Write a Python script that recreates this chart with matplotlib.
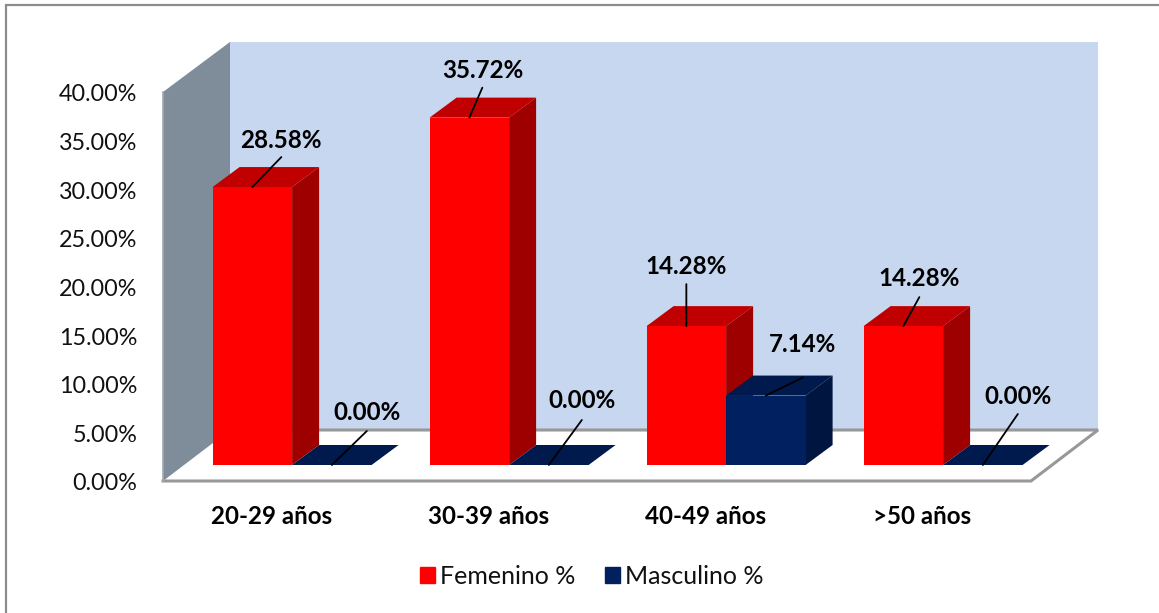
import matplotlib
matplotlib.use("Agg")
import matplotlib.pyplot as plt
from matplotlib.patches import Polygon, Rectangle
from matplotlib.lines import Line2D
from matplotlib.ticker import PercentFormatter
from matplotlib.transforms import Affine2D

plt.rcParams['font.family'] = ['Lato', 'DejaVu Sans']

# Survey values
categories = ["20-29 años", "30-39 años", "40-49 años", ">50 años"]
femenino = [28.58, 35.72, 14.28, 14.28]
masculino = [0.00, 0.00, 7.14, 0.00]
y_ticks = [0, 5, 10, 15, 20, 25, 30, 35, 40]

# Colours of the extruded faces
RED = ("#FF0000", "#C00000", "#9E0000")
BLUE = ("#002060", "#001A4D", "#001540")
WALL_SIDE = "#7F8C99"
WALL_BACK = "#C6D7EF"
FLOOR_EDGE = "#989898"

W, H = 1159, 613
fig = plt.figure(figsize=(W / 100, H / 100), dpi=100)
fig.patch.set_facecolor("white")

# Axes span the front plane of the chart box
left, right, bottom, top = 163, 1031, 481, 92
ax = fig.add_axes([left / W, 1 - bottom / H, (right - left) / W, (bottom - top) / H])
ax.set_xlim(-0.5, 3.5)
ax.set_ylim(0, 40)
ax.patch.set_visible(False)

px_x = 4 / (right - left)       # category units per pixel
px_y = 40 / (bottom - top)      # percent units per pixel


def face(points, color, z, edge="none", lw=0):
    ax.add_patch(Polygon(points, closed=True, facecolor=color, edgecolor=edge,
                         linewidth=lw, zorder=z, clip_on=False))


# Box walls and floor
box_dx, box_dy = 67 * px_x, 51 * px_y
x0, x1 = -0.5, 3.5
face([(x0 + box_dx, 0 + box_dy), (x1 + box_dx, box_dy), (x1 + box_dx, 40 + 50 * px_y + 0),
      (x0 + box_dx, 40 + 50 * px_y)], WALL_BACK, 1)
face([(x0, 0), (x0 + box_dx, box_dy), (x0 + box_dx, 40 + 50 * px_y), (x0, 40)], WALL_SIDE, 1)
ax.add_line(Line2D([x0, x1, x1 + box_dx, x0 + box_dx], [0, 0, box_dy, box_dy],
                   color=FLOOR_EDGE, lw=2.2, zorder=2, clip_on=False, solid_joinstyle="miter"))
ax.add_line(Line2D([x0, x0], [0, 40], color="#A3A9B0", lw=1.2, zorder=2, clip_on=False))

# Bars stand on the floor, set back from the front plane
base = 16 * px_y
shift = 20.6 * px_x
bar_w = 79.5 * px_x
dep_x, dep_y = 27 * px_x, 20 * px_y


def bar3d(left_x, value, colors, z):
    front, lid, side = colors
    r = left_x + bar_w
    y1 = base + value
    ax.bar(left_x, value, width=bar_w, bottom=base, align="edge", color=front,
           linewidth=0, zorder=z + 0.2, clip_on=False)
    face([(r, base), (r + dep_x, base + dep_y), (r + dep_x, y1 + dep_y), (r, y1)], side, z)
    face([(left_x, y1), (left_x + dep_x, y1 + dep_y), (r + dep_x, y1 + dep_y), (r, y1)], lid, z + 0.1)


# Masculino sits after Femenino in the series order, so it paints over the red flank
for i, (f, m) in enumerate(zip(femenino, masculino)):
    seam = i + shift
    bar3d(seam - bar_w, f, RED, 3)
    bar3d(seam, m, BLUE, 4)

# Value labels with leader lines: (line end, text centre) in pixels from the bar's front-top centre
f_offsets = [((29, 30), (29, 47)), ((13, 30), (13, 47)), ((0, 42), (0, 60)), ((16, 29), (16, 48))]
m_offsets = [((35, 34), (35, 52)), ((33, 45), (33, 64)), ((37, 18), (37, 51)), ((35, 51), (35, 69))]


def value_label(x, y, value, line_end, text_pos):
    ax.annotate("", xy=(x, y), xytext=line_end, textcoords="offset pixels",
                arrowprops=dict(arrowstyle="-", color="black", lw=1.3, shrinkA=0, shrinkB=0),
                zorder=8, annotation_clip=False)
    ax.annotate(f"{value:.2f}%", xy=(x, y), xytext=text_pos, textcoords="offset pixels",
                ha="center", va="center", fontsize=17.4, fontweight="bold", color="black",
                zorder=9, annotation_clip=False)


for i, (f, m) in enumerate(zip(femenino, masculino)):
    seam = i + shift
    value_label(seam - bar_w / 2, base + f, f, *f_offsets[i])
    value_label(seam + bar_w / 2, base + m, m, *m_offsets[i])

# Axis ticks and labels
for s in ax.spines.values():
    s.set_visible(False)
ax.set_yticks(y_ticks)
ax.yaxis.set_major_formatter(PercentFormatter(decimals=2))
ax.tick_params(axis="y", length=0, pad=18.5, labelsize=16.8, labelcolor="#111111")
for label in ax.yaxis.get_majorticklabels():
    label.set_transform(label.get_transform() + Affine2D().translate(0, -1))
ax.set_xticks(range(len(categories)))
ax.set_xticklabels(categories, fontsize=17.4, fontweight="bold", color="black")
ax.tick_params(axis="x", length=0, pad=17)

# Legend
handles = [Rectangle((0, 0), 1, 1, color=RED[0]), Rectangle((0, 0), 1, 1, color=BLUE[0])]
fs = 18
px_em = fs * 100 / 72
fig.legend(handles, ["Femenino %", "Masculino %"], loc="center", ncols=2,
           bbox_to_anchor=(591.5 / W, 1 - 576 / H), frameon=False, fontsize=fs,
           handlelength=15 / px_em, handleheight=15 / px_em, handletextpad=5 / px_em,
           columnspacing=30 / px_em, labelcolor="#111111")

# Outer frame: only the top and left edges fall inside the image
fig.add_artist(Line2D([6 / W, 6 / W, 1], [0, 1 - 5 / H, 1 - 5 / H], color="#8C8C8C", lw=1.6,
                      transform=fig.transFigure, solid_joinstyle="miter"))

fig.savefig("out.png", dpi=100)
